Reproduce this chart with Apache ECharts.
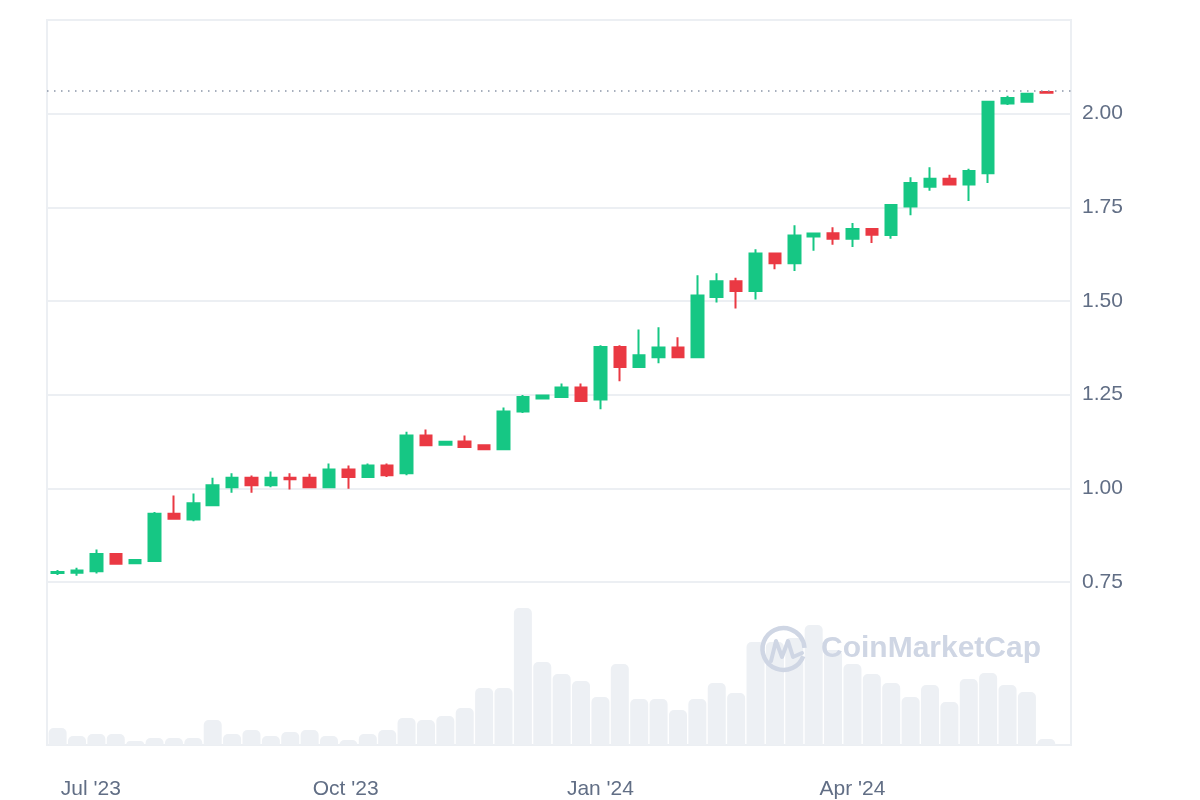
<!DOCTYPE html>
<html>
<head>
<meta charset="utf-8">
<script src="https://cdn.jsdelivr.net/npm/echarts@6/dist/echarts.min.js"></script>
<style>
  html, body { margin: 0; background: #fff; }
  #chart { width: 1200px; height: 800px; }
</style>
</head>
<body>
<div id="chart"></div>
<script>
// weekly candles
const weeks = ['2023-06-19', '2023-06-26', '2023-07-03', '2023-07-10', '2023-07-17', '2023-07-24', '2023-07-31',
  '2023-08-07', '2023-08-14', '2023-08-21', '2023-08-28', '2023-09-04', '2023-09-11', '2023-09-18', '2023-09-25',
  '2023-10-02', '2023-10-09', '2023-10-16', '2023-10-23', '2023-10-30', '2023-11-06', '2023-11-13', '2023-11-20',
  '2023-11-27', '2023-12-04', '2023-12-11', '2023-12-18', '2023-12-25', '2024-01-01', '2024-01-08', '2024-01-15',
  '2024-01-22', '2024-01-29', '2024-02-05', '2024-02-12', '2024-02-19', '2024-02-26', '2024-03-04', '2024-03-11',
  '2024-03-18', '2024-03-25', '2024-04-01', '2024-04-08', '2024-04-15', '2024-04-22', '2024-04-29', '2024-05-06',
  '2024-05-13', '2024-05-20', '2024-05-27', '2024-06-03', '2024-06-10'];
const opens = [0.774, 0.775, 0.779, 0.825, 0.800, 0.806, 0.932, 0.917, 0.955, 1.003, 1.028, 1.008, 1.028,
  1.028, 1.003, 1.050, 1.030, 1.061, 1.040, 1.141, 1.116, 1.125, 1.115, 1.104, 1.205, 1.240,
  1.244, 1.269, 1.237, 1.377, 1.324, 1.350, 1.376, 1.350, 1.511, 1.553, 1.527, 1.627, 1.601,
  1.672, 1.681, 1.666, 1.692, 1.676, 1.752, 1.805, 1.826, 1.811, 1.841, 2.027, 2.032, 2.058];
const closes = [0.777, 0.781, 0.825, 0.799, 0.809, 0.932, 0.919, 0.960, 1.008, 1.028, 1.008, 1.028, 1.024,
  1.003, 1.050, 1.030, 1.061, 1.035, 1.141, 1.115, 1.124, 1.110, 1.104, 1.205, 1.244, 1.248,
  1.269, 1.233, 1.377, 1.324, 1.355, 1.376, 1.350, 1.515, 1.553, 1.527, 1.627, 1.601, 1.675,
  1.680, 1.666, 1.692, 1.677, 1.756, 1.815, 1.826, 1.811, 1.847, 2.032, 2.042, 2.053, 2.056];
const lows = [0.769, 0.767, 0.773, 0.798, 0.799, 0.805, 0.918, 0.912, 0.954, 0.988, 0.988, 1.003, 0.997,
  1.002, 1.002, 0.999, 1.029, 1.030, 1.035, 1.114, 1.115, 1.109, 1.103, 1.103, 1.201, 1.239,
  1.243, 1.232, 1.211, 1.286, 1.323, 1.334, 1.349, 1.349, 1.496, 1.480, 1.504, 1.585, 1.580,
  1.634, 1.650, 1.644, 1.655, 1.666, 1.729, 1.794, 1.810, 1.767, 1.815, 2.023, 2.031, 2.054];
const highs = [0.782, 0.788, 0.837, 0.826, 0.810, 0.937, 0.981, 0.986, 1.028, 1.040, 1.034, 1.045, 1.040,
  1.039, 1.066, 1.061, 1.066, 1.066, 1.151, 1.157, 1.125, 1.141, 1.116, 1.216, 1.249, 1.250,
  1.280, 1.280, 1.382, 1.382, 1.424, 1.430, 1.403, 1.569, 1.574, 1.562, 1.638, 1.628, 1.702,
  1.682, 1.697, 1.708, 1.693, 1.757, 1.830, 1.857, 1.837, 1.853, 2.033, 2.048, 2.056, 2.059];
// relative volume (same unit for every week)
const volumes = [17, 9, 11, 11, 4, 7, 7, 7, 25, 11, 15, 9, 13, 15, 9, 5, 11, 15, 27, 25, 29, 37, 57, 57, 137, 83,
  71, 64, 48, 81, 46, 46, 35, 46, 62, 52, 103, 103, 107, 120, 95, 81, 71, 62, 48, 60, 43, 66, 72, 60, 53, 6];

const tickDates = ['2023-07-01', '2023-10-01', '2024-01-01', '2024-04-01'];
const tickLabels = ["Jul '23", "Oct '23", "Jan '24", "Apr '24"];

const UP = '#16c784';
const DOWN = '#ea3943';
const LINE = '#eceff3';
const TEXT = '#616e85';
const MARK = '#cfd6e4';
const FONT = '"Liberation Sans", Arial, sans-serif';

// dates -> local timestamps, x axes are plain value axes on these numbers
const t = (s) => +echarts.time.parse(s);
const xMin = t('2023-06-15 04:00:00');
const xMax = t('2024-06-18 22:00:00');
const tickValues = tickDates.map(t);
const weekValues = weeks.map(t);
const lastClose = closes[closes.length - 1];

const chart = echarts.init(document.getElementById('chart'));

chart.setOption({
  animation: false,
  textStyle: { fontFamily: FONT },
  grid: [
    { left: 47, right: 129, top: 20, height: 562, show: true, borderColor: LINE, borderWidth: 2 },
    { left: 47, right: 129, top: 582, height: 163, show: true, borderColor: LINE, borderWidth: 2 }
  ],
  xAxis: [
    {
      type: 'value', gridIndex: 0, min: xMin, max: xMax,
      axisLine: { show: false }, axisTick: { show: false }, axisLabel: { show: false }, splitLine: { show: false }
    },
    {
      type: 'value', gridIndex: 1, min: xMin, max: xMax,
      axisLine: { show: false }, axisTick: { show: false }, splitLine: { show: false },
      axisLabel: {
        customValues: tickValues,
        margin: 34,
        color: TEXT,
        fontSize: 21,
        fontFamily: FONT,
        formatter: (v) => {
          const k = tickValues.indexOf(v);
          return k >= 0 ? tickLabels[k] : '';
        }
      }
    }
  ],
  yAxis: [
    {
      type: 'value', gridIndex: 0, position: 'right',
      min: 0.75, max: 2.25, interval: 0.25,
      axisLine: { show: false }, axisTick: { show: false },
      splitLine: { lineStyle: { color: LINE, width: 2 } },
      axisLabel: {
        margin: 11, color: TEXT, fontSize: 21, fontFamily: FONT,
        formatter: (v) => (v > 2.001 ? '' : v.toFixed(2))
      }
    },
    {
      type: 'value', gridIndex: 1, min: 0, max: 163, show: false,
      splitLine: { show: false }
    }
  ],
  // watermark, drawn over the volume bars
  graphic: [
    {
      type: 'arc', z: 100, silent: true,
      shape: { cx: 783.5, cy: 649, r: 21, startAngle: 0.35, endAngle: Math.PI * 2 - 0.05 },
      style: { stroke: MARK, lineWidth: 4.5, fill: null }
    },
    {
      type: 'polyline', z: 100, silent: true,
      shape: { points: [[771, 661], [776, 641], [782, 657], [788, 641], [793, 657], [802, 653]] },
      style: { stroke: MARK, lineWidth: 4, lineJoin: 'round', lineCap: 'round', fill: null }
    },
    {
      type: 'text', z: 100, silent: true, x: 821, y: 649,
      style: {
        text: 'CoinMarketCap', fill: MARK, font: '600 30px ' + FONT,
        textVerticalAlign: 'middle'
      }
    }
  ],
  series: [
    {
      type: 'bar',
      xAxisIndex: 1, yAxisIndex: 1,
      barWidth: 18,
      itemStyle: { color: '#edf0f4', borderRadius: [5, 5, 0, 0] },
      data: weekValues.map((x, i) => [x, volumes[i]])
    },
    {
      type: 'candlestick',
      xAxisIndex: 0, yAxisIndex: 0,
      barWidth: 12,
      encode: { x: 0, y: [1, 2, 3, 4] },
      itemStyle: {
        color: UP, color0: DOWN, borderColor: UP, borderColor0: DOWN, borderWidth: 2
      },
      data: weekValues.map((x, i) => [x, opens[i], closes[i], lows[i], highs[i]]),
      markLine: {
        silent: true,
        symbol: ['none', 'none'],
        label: { show: false },
        lineStyle: { color: '#8b95a8', width: 1.5, type: [1.5, 5.5] },
        data: [{ yAxis: lastClose }]
      }
    }
  ]
});
</script>
</body>
</html>
